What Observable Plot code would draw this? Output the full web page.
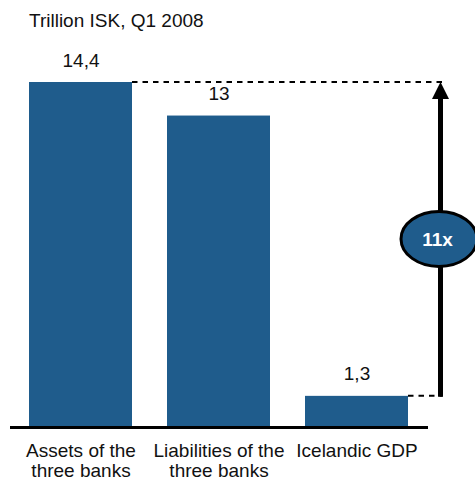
<!DOCTYPE html>
<html>
<head>
<meta charset="utf-8">
<script src="https://cdn.jsdelivr.net/npm/d3@7"></script>
<script src="https://cdn.jsdelivr.net/npm/@observablehq/plot@0.6"></script>
<style>
  html, body { margin: 0; padding: 0; background: #fff; }
  #chart { width: 475px; height: 481px; overflow: hidden; }
  #title {
    height: 40px; box-sizing: border-box; padding: 11px 0 0 29px;
    font: 19px "Liberation Sans", Arial, sans-serif; line-height: 19px; color: #111;
  }
</style>
</head>
<body>
<div id="chart">
  <div id="title"></div>
</div>
<script>
const title = "Trillion ISK, Q1 2008";
const categories = ["Assets of the\nthree banks", "Liabilities of the\nthree banks", "Icelandic GDP"];
const values = [14.4, 13, 1.3];
const valueLabels = ["14,4", "13", "1,3"];

const blue = "#1f5c8c";
const font = '"Liberation Sans", Arial, sans-serif';
const data = categories.map((c, i) => ({cat: c, value: values[i], label: valueLabels[i]}));

document.getElementById("title").textContent = title;

const topValue = values[0], lowValue = values[2];
const multiple = Math.round(topValue / lowValue) + "x";

function annotation(index, scales, channels, dims) {
  const {x, y} = scales;
  const bw = typeof x.bandwidth === "function" ? x.bandwidth() : (x.bandwidth ?? 0);
  const ax = dims.width - dims.marginRight + 12.5;
  const yTop = y(topValue), yLow = y(lowValue);
  const g = d3.create("svg:g");
  g.append("line").attr("x1", x(categories[0]) + bw).attr("x2", ax + 2)
    .attr("y1", yTop).attr("y2", yTop)
    .attr("stroke", "black").attr("stroke-width", 2).attr("stroke-dasharray", "5.5,5");
  g.append("line").attr("x1", x(categories[2]) + bw).attr("x2", ax + 2)
    .attr("y1", yLow).attr("y2", yLow)
    .attr("stroke", "black").attr("stroke-width", 2).attr("stroke-dasharray", "5.5,5");
  g.append("line").attr("x1", ax).attr("x2", ax).attr("y1", yLow + 1).attr("y2", yTop + 16)
    .attr("stroke", "black").attr("stroke-width", 5);
  g.append("path").attr("d", `M${ax},${yTop}L${ax - 8.5},${yTop + 17}L${ax + 8.5},${yTop + 17}Z`)
    .attr("fill", "black");
  const cy = (yTop + yLow) / 2;
  g.append("ellipse").attr("cx", ax - 1.5).attr("cy", cy).attr("rx", 38).attr("ry", 27.5)
    .attr("fill", blue).attr("stroke", "black").attr("stroke-width", 3);
  g.append("text").attr("x", ax - 3).attr("y", cy).attr("dy", "0.36em")
    .attr("text-anchor", "middle").attr("fill", "white")
    .attr("font-weight", "bold").attr("font-size", 19).attr("font-family", font)
    .text(multiple);
  return g.node();
}

const chart = Plot.plot({
  width: 475,
  height: 441,
  marginTop: 42,
  marginBottom: 54,
  marginLeft: 10,
  marginRight: 47,
  style: {fontFamily: font, fontSize: "19px", color: "#111", background: "white", overflow: "visible"},
  x: {domain: categories, paddingInner: 0.252, paddingOuter: 0.13, axis: null},
  y: {domain: [0, 14.4], axis: null},
  marks: [
    Plot.barY(data, {x: "cat", y: "value", fill: blue}),
    Plot.ruleY([0], {stroke: "black", strokeWidth: 3}),
    Plot.text(data, {x: "cat", y: "value", text: "label", lineAnchor: "bottom", dy: -16, fontSize: 19, fill: "#111"}),
    Plot.text(data, {x: "cat", text: "cat", frameAnchor: "bottom", lineAnchor: "top", lineHeight: 1.05, dy: 15.5, fontSize: 19, fill: "#111"}),
    annotation
  ]
});
document.getElementById("chart").appendChild(chart);
</script>
</body>
</html>
